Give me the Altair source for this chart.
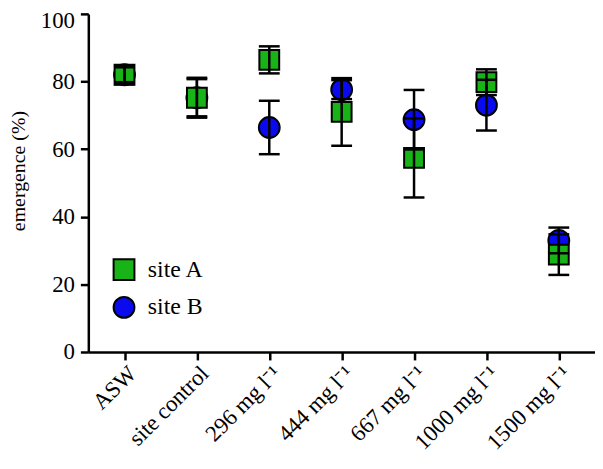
import altair as alt
import pandas as pd

categories = ["ASW", "site control", "296 mg l\u207b\u00b9", "444 mg l\u207b\u00b9",
              "667 mg l\u207b\u00b9", "1000 mg l\u207b\u00b9", "1500 mg l\u207b\u00b9"]
site_a_mean = [82.0, 75.2, 86.4, 71.0, 57.4, 79.8, 28.8]
site_a_err = [2.8, 5.9, 4.0, 10.0, 11.7, 3.8, 6.0]
site_b_mean = [82.0, 75.2, 66.4, 77.6, 68.7, 73.0, 33.0]
site_b_err = [2.2, 5.5, 7.9, 2.8, 8.8, 7.5, 3.8]
sites = ["site A", "site B"]
colors = ["#17b317", "#0a0aee"]
shapes = ["square", "circle"]
y_ticks = [0, 20, 40, 60, 80, 100]

rows = []
for i, c in enumerate(categories):
    for s, m, e in ((sites[0], site_a_mean[i], site_a_err[i]),
                    (sites[1], site_b_mean[i], site_b_err[i])):
        rows.append({"cat": c, "site": s, "mean": m, "lo": m - e, "hi": m + e})
df = pd.DataFrame(rows)

FONT = "Liberation Serif"

x = alt.X("cat:N", sort=categories,
          scale=alt.Scale(type="point", padding=0.5),
          axis=alt.Axis(title=None, labelAngle=-45, labelAlign="right",
                        labelBaseline="top", labelPadding=2, labelFontSize=23))
y_axis = alt.Axis(title="emergence (%)", values=y_ticks,
                  titleFont=FONT, titleFontSize=20, titleFontWeight="normal",
                  titleColor="black", titleX=-70, titleY=158, titleBaseline="middle",
                  titleAngle=270, labelFontSize=23, labelPadding=6,
                  labelOffset={"condition": {"test": "datum.value === 100", "value": 7},
                               "value": 0})
yscale = alt.Scale(domain=[0, 100], nice=False, zero=True)

color = alt.Color("site:N", scale=alt.Scale(domain=sites, range=colors),
                  legend=alt.Legend(title=None, orient="none", legendX=24, legendY=246,
                                    symbolSize=441, symbolStrokeColor="black",
                                    symbolStrokeWidth=2, labelFont=FONT,
                                    labelFontSize=24, labelColor="black",
                                    rowPadding=8, labelOffset=12))
shape = alt.Shape("site:N", scale=alt.Scale(domain=sites, range=shapes))

base = alt.Chart(df)

circles = base.transform_filter(alt.datum.site == "site B").mark_point(
    filled=True, size=441, stroke="black", strokeWidth=2, opacity=1
).encode(x=x, y=alt.Y("mean:Q", scale=yscale, axis=y_axis), color=color, shape=shape)

squares = base.transform_filter(alt.datum.site == "site A").mark_point(
    filled=True, size=400, stroke="black", strokeWidth=2, opacity=1
).encode(x=x, y=alt.Y("mean:Q", scale=yscale), color=color, shape=shape)

rules = base.mark_rule(color="black", strokeWidth=2.5).encode(
    x=x, y=alt.Y("lo:Q", scale=yscale), y2="hi:Q")
caps_lo = base.mark_tick(color="black", thickness=2.5, size=21, opacity=1).encode(
    x=x, y=alt.Y("lo:Q", scale=yscale))
caps_hi = base.mark_tick(color="black", thickness=2.5, size=21, opacity=1).encode(
    x=x, y=alt.Y("hi:Q", scale=yscale))

chart = alt.layer(circles, squares, rules, caps_lo, caps_hi).properties(
    width=511, height=341,
    autosize=alt.AutoSizeParams(type="none"),
    padding={"left": 81, "top": 4, "right": 0, "bottom": 108},
).configure_axis(
    grid=False, domainColor="black", domainWidth=2.5, tickColor="black",
    tickWidth=2.5, tickSize=8, labelFont=FONT, labelColor="black"
).configure_view(stroke=None)

chart.save("out.html", embed_options={"renderer": "svg", "actions": False})
